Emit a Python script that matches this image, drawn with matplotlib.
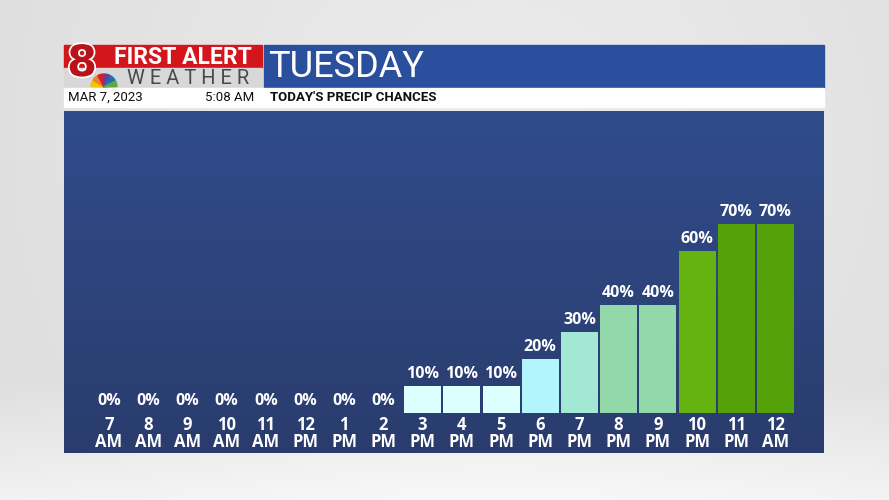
import matplotlib
matplotlib.use("Agg")
import matplotlib.pyplot as plt
import matplotlib.patheffects as pe
import numpy as np
from matplotlib.patches import Rectangle, Wedge

hours = ["7", "8", "9", "10", "11", "12", "1", "2", "3", "4", "5", "6", "7", "8", "9", "10", "11", "12"]
meridiem = ["AM", "AM", "AM", "AM", "AM", "PM", "PM", "PM", "PM", "PM", "PM", "PM", "PM", "PM", "PM", "PM", "PM", "AM"]
precip = [0, 0, 0, 0, 0, 0, 0, 0, 10, 10, 10, 20, 30, 40, 40, 60, 70, 70]
bar_colors = {10: "#dcffff", 20: "#b2f5fd", 30: "#a3e8d4", 40: "#92d8a8",
              60: "#64b310", 70: "#55a10a"}

title = "TUESDAY"
date_txt = "MAR 7, 2023"
time_txt = "5:08 AM"
subtitle = "TODAY'S PRECIP CHANCES"

W, H = 889, 500
fig = plt.figure(figsize=(W / 100, H / 100), dpi=100)

def fx(px):
    return px / W

def fy(py):
    return 1 - py / H

# background
bg = fig.add_axes([0, 0, 1, 1])
bg.set_xlim(0, W)
bg.set_ylim(H, 0)
bg.axis("off")
yy, xx = np.mgrid[0:H, 0:W]
g = 0.86 + 0.06 * np.exp(-((xx - 500) ** 2 + (yy - 150) ** 2) / 2e5)
g = g + 0.08 * np.clip((yy - 380) / 120, 0, 1)
g = np.clip(g, 0, 1)
bg.imshow(np.dstack([g, g, g]), extent=[0, W, H, 0], aspect="auto", zorder=0)

# header pieces
bg.add_patch(Rectangle((64, 45), 198, 23, color="#d2161b", zorder=2))
bg.add_patch(Rectangle((64, 68), 198, 20, color="#d8d8d8", zorder=2))
bg.add_patch(Rectangle((264, 45), 560, 43, color="#2a4f9c", zorder=2))
bg.add_patch(Rectangle((64, 88), 760, 19, color="#ffffff", zorder=2))
# "8" logo and peacock
bg.text(82, 64, "8", color="#b8121a", fontsize=31, fontweight="bold",
        ha="center", va="center", family="DejaVu Sans", zorder=3,
        path_effects=[pe.withStroke(linewidth=2.5, foreground="white")])
pea = ["#f6c500", "#f0842b", "#d3202d", "#6a3f8f", "#1d6fb8", "#5ca843"]
for i, c in enumerate(pea):
    bg.add_patch(Wedge((104, 87), 13, 180 + i * 30 + 2, 180 + (i + 1) * 30 - 2,
                       color=c, zorder=4))
bg.text(183, 57, "FIRST ALERT", color="white", fontsize=16.5, fontweight="bold",
        ha="center", va="center", family="Roboto", zorder=3)
bg.text(188, 78.5, "W E A T H E R", color="#4a4a4a", fontsize=14.5,
        ha="center", va="center", family="Roboto", zorder=3)
bg.text(268, 67, title, color="white", fontsize=26, ha="left", va="center",
        family="Roboto", zorder=3)
bg.text(68, 97.5, date_txt, color="#111111", fontsize=9.5, ha="left", va="center",
        family="Roboto", zorder=3)
bg.text(254, 97.5, time_txt, color="#111111", fontsize=9.5, ha="right", va="center",
        family="Roboto", zorder=3)
bg.text(270, 97.5, subtitle, color="#111111", fontsize=9.5, fontweight="bold",
        ha="left", va="center", family="Roboto", zorder=3)

# chart panel
x0, x1, ytop, ybot = 64, 824, 111, 453
ax = fig.add_axes([fx(x0), fy(ybot), fx(x1 - x0), (ybot - ytop) / H])
step = 39.2
c0 = 109
base = 413
pp = 2.7  # px per percent
ax.set_xlim(-(c0 - x0) / step, (x1 - c0) / step)
ax.set_ylim(-(ybot - base) / pp, (base - ytop) / pp)
ax.axis("off")
grad = np.linspace(0, 1, 256)[:, None]
top = np.array([0x30, 0x4c, 0x8b]) / 255
bot = np.array([0x2a, 0x3c, 0x6d]) / 255
img = top[None, None, :] * (1 - grad[..., None]) + bot[None, None, :] * grad[..., None]
img = np.repeat(img, 2, axis=1)
ax.imshow(img, extent=[ax.get_xlim()[0], ax.get_xlim()[1], ax.get_ylim()[0], ax.get_ylim()[1]],
          aspect="auto", zorder=0)

xs = np.arange(len(precip))
cols = [bar_colors.get(v, "#ffffff") for v in precip]
ax.bar(xs, precip, width=37 / step, color=cols, zorder=2)
for x, v, h, m in zip(xs, precip, hours, meridiem):
    ax.text(x, v + 1.6, f"{v}%", color="white", fontsize=11.5, fontweight="bold",
            ha="center", va="bottom", family="Open Sans", zorder=3)
    ax.text(x, -7.5, f"{h}\n{m}", color="white", fontsize=12, fontweight="bold",
            ha="center", va="center", family="Open Sans", linespacing=0.92,
            zorder=3)

fig.savefig("out.png", dpi=100)
